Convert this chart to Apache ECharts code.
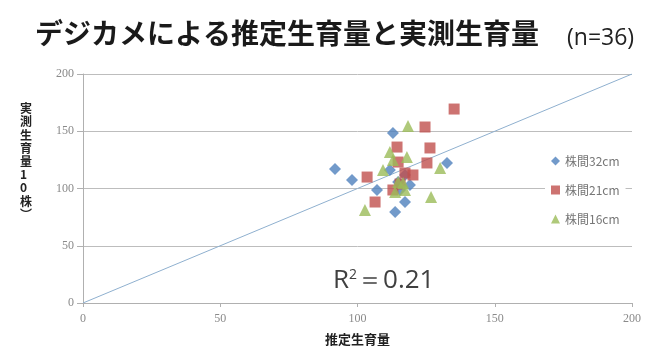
<!DOCTYPE html>
<html>
<head>
<meta charset="utf-8">
<script src="https://cdn.jsdelivr.net/npm/echarts@6/dist/echarts.min.js"></script>
<style>
  html, body { margin: 0; padding: 0; background: #fff; }
  #chart { width: 666px; height: 352px; }
</style>
</head>
<body>
<div id="chart"></div>
<script>
// Estimated vs measured growth volume, three plant spacings (n=36)
const seriesNames = ['株間32cm', '株間21cm', '株間16cm'];

// [estimated, measured]
const spacing32 = [
  [91.8, 117.0], [98.0, 107.4], [107.1, 98.7], [112.9, 148.5],
  [113.7, 79.5], [117.3, 88.2], [132.6, 122.3], [114.8, 105.7],
  [117.3, 111.8], [111.8, 116.2], [119.1, 103.1], [115.5, 98.7]
];
const spacing21 = [
  [135.2, 169.4], [124.6, 153.7], [114.4, 136.2], [126.4, 135.4],
  [125.3, 122.3], [114.8, 123.1], [103.5, 110.0], [117.3, 113.5],
  [120.2, 111.8], [112.9, 98.7], [106.4, 88.2], [115.5, 103.9]
];
const spacing16 = [
  [118.4, 154.6], [112.9, 124.9], [118.0, 127.5], [109.3, 116.2],
  [114.8, 105.7], [116.6, 104.8], [113.7, 96.9], [102.7, 81.2],
  [126.8, 92.6], [130.1, 117.9], [117.3, 98.7], [111.8, 131.9]
];

// 1:1 reference line
const oneToOne = [[0, 0], [200, 200]];

const axisTicks = { min: 0, max: 200, interval: 50 };
const titleText = 'デジカメによる推定生育量と実測生育量';
const sampleText = '(n=36)';
const xName = '推定生育量';
const yNameChars = ['実', '測', '生', '育', '量', '1', '0', '株', '︶'];
const r2Value = '0.21';

const colors = ['#4F81BD', '#C0504D', '#9BBB59'];
const symbols = ['diamond', 'rect', 'triangle'];
const font = '"Noto Sans CJK JP", "Noto Sans", sans-serif';

const chart = echarts.init(document.getElementById('chart'), null, { renderer: 'canvas' });

const scatter = [spacing32, spacing21, spacing16].map((d, i) => ({
  name: seriesNames[i],
  type: 'scatter',
  data: d,
  symbol: symbols[i],
  symbolSize: i === 0 ? 12 : (i === 1 ? 11 : 12),
  itemStyle: { color: colors[i] },
  z: 3 + i
}));

chart.setOption({
  animation: false,
  textStyle: { fontFamily: font },
  grid: { left: 83, right: 34, top: 74, bottom: 49 },
  title: [
    {
      text: titleText,
      left: 30, top: 14,
      textStyle: { fontFamily: font, fontSize: 28, fontWeight: 'bold', color: '#1a1a1a' }
    },
    {
      text: sampleText,
      left: 562, top: 22,
      textStyle: { fontFamily: '"Open Sans", "Noto Sans", sans-serif', fontSize: 23, fontWeight: 'normal', color: '#222' }
    }
  ],
  legend: {
    orient: 'vertical',
    left: 545, top: 150,
    itemGap: 17,
    itemWidth: 9, itemHeight: 9,
    padding: [5, 6, 5, 6],
    backgroundColor: '#fff',
    textStyle: { fontFamily: font, fontSize: 12, color: '#777' },
    data: seriesNames.map((n, i) => ({ name: n, icon: symbols[i] }))
  },
  xAxis: {
    type: 'value',
    min: axisTicks.min, max: axisTicks.max, interval: axisTicks.interval,
    name: xName,
    nameLocation: 'middle',
    nameGap: 30,
    nameTextStyle: { fontFamily: font, fontSize: 13, fontWeight: 'bold', color: '#222' },
    axisLine: { show: true, lineStyle: { color: '#b0b0b0' } },
    axisTick: { show: true, length: 4, lineStyle: { color: '#b0b0b0' } },
    axisLabel: { color: '#8a8a8a', fontSize: 12, margin: 10, fontFamily: '"Liberation Serif", serif' },
    splitLine: { show: false }
  },
  yAxis: {
    type: 'value',
    min: axisTicks.min, max: axisTicks.max, interval: axisTicks.interval,
    axisLine: { show: true, lineStyle: { color: '#b0b0b0' } },
    axisTick: { show: true, length: 6, lineStyle: { color: '#b0b0b0' } },
    axisLabel: { color: '#8a8a8a', fontSize: 12, margin: 9, fontFamily: '"Liberation Serif", serif' },
    splitLine: { show: true, lineStyle: { color: '#bdbdbd', width: 1 } }
  },
  graphic: [
    {
      type: 'text',
      left: 20, top: 102,
      style: {
        text: yNameChars.join('\n'),
        font: 'bold 12px ' + font,
        lineHeight: 13.2,
        fill: '#222',
        align: 'center'
      }
    },
    {
      type: 'text',
      left: 333, top: 268,
      style: {
        text: '{r|R}{s|2}{r|＝' + r2Value + '}',
        rich: {
          r: { fontFamily: '"Open Sans", "Noto Sans", sans-serif', fontSize: 26, fill: '#404040', color: '#404040' },
          s: { fontFamily: '"Open Sans", "Noto Sans", sans-serif', fontSize: 14, fill: '#404040', color: '#404040', verticalAlign: 'top', padding: [0, 0, 11, 0] }
        }
      }
    }
  ],
  series: [
    {
      name: '1:1',
      type: 'line',
      data: oneToOne,
      symbol: 'none',
      silent: true,
      lineStyle: { color: '#8fb0cf', width: 1 },
      z: 2
    },
    ...scatter
  ]
});
</script>
</body>
</html>
